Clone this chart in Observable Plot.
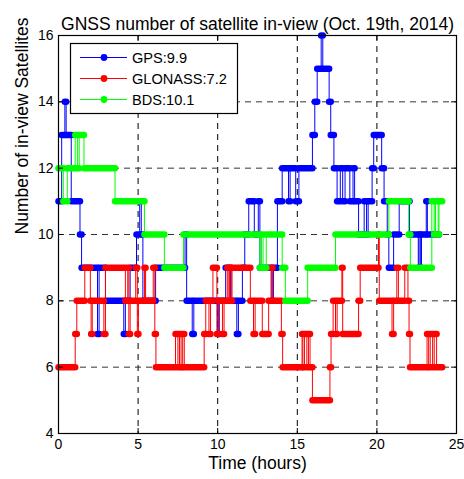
<!DOCTYPE html>
<html>
<head>
<meta charset="utf-8">
<script src="https://cdn.jsdelivr.net/npm/d3@7"></script>
<script src="https://cdn.jsdelivr.net/npm/@observablehq/plot@0.6"></script>
<style>
  body { margin: 0; background: #fff; }
  #chart svg { display: block; }
</style>
</head>
<body>
<div id="chart"></div>
<script>
// Satellites in view per constellation: each series is a list of change times (hours)
// and the count that holds from that time until the next change.
const gpsTimes = [0, 0.2, 0.4, 0.48, 0.8, 1.35, 1.45, 2.45, 2.55, 2.95, 4.1, 4.2, 4.5, 4.9, 5.1, 5.2, 5.3, 6.1, 7.95, 8.05, 8.4, 8.5, 10.0, 10.1, 10.5, 10.8, 11.2, 11.3, 11.55, 11.7, 11.95, 12.3, 12.55, 12.65, 13.4, 13.5, 13.75, 14.05, 14.45, 14.55, 14.9, 15.1, 15.95, 16.1, 16.25, 16.5, 16.6, 17.0, 17.1, 17.3, 17.5, 17.7, 17.85, 18.0, 18.3, 18.5, 18.6, 18.85, 19.2, 19.35, 19.45, 19.7, 19.8, 20.3, 20.45, 20.65, 20.75, 21.05, 21.4, 22.05, 22.6, 22.65, 22.75, 22.8, 23.1, 23.17];
const gpsValues = [11, 13, 14, 13, 11, 10, 9, 7, 9, 8, 7, 8, 9, 10, 11, 10, 8, 9, 10, 8, 7, 8, 7, 8, 9, 8, 7, 8, 9, 10, 11, 10, 11, 9, 8, 9, 11, 12, 11, 12, 11, 12, 13, 14, 15, 16, 15, 14, 13, 12, 11, 12, 11, 12, 11, 12, 11, 10, 11, 10, 11, 12, 13, 12, 11, 10, 9, 10, 11, 10, 9, 10, 9, 10, 11, 10];
const gpsEnd = 23.9;

const glonassTimes = [0, 1.05, 1.15, 1.65, 2.0, 2.05, 2.12, 2.85, 2.95, 4.2, 4.35, 4.42, 4.5, 4.85, 4.95, 5.02, 5.4, 5.47, 5.95, 6.05, 6.12, 7.35, 7.5, 7.6, 7.7, 7.8, 7.9, 9.15, 9.25, 9.45, 9.55, 9.7, 9.95, 10.05, 10.3, 10.4, 10.6, 10.7, 10.75, 10.85, 10.9, 12.05, 12.25, 12.35, 12.8, 13.2, 13.35, 13.45, 14.0, 14.08, 15.3, 15.35, 15.45, 15.6, 15.7, 15.8, 15.95, 17.05, 17.12, 17.25, 17.4, 17.5, 17.8, 17.85, 18.85, 18.95, 20.1, 20.15, 20.95, 21.05, 21.25, 21.35, 21.75, 21.95, 22.02, 22.08, 23.15, 23.25, 23.35, 23.5, 23.6, 23.75];
const glonassValues = [6, 7, 8, 9, 8, 7, 8, 7, 9, 8, 9, 7, 8, 9, 7, 8, 9, 8, 9, 7, 6, 7, 6, 7, 6, 7, 6, 7, 8, 7, 8, 9, 7, 8, 7, 8, 9, 8, 9, 8, 9, 8, 7, 8, 7, 8, 9, 8, 7, 6, 7, 6, 7, 6, 7, 6, 5, 6, 7, 8, 7, 8, 9, 7, 8, 9, 10, 8, 7, 8, 9, 8, 9, 8, 7, 6, 7, 6, 7, 6, 7, 6];
const glonassEnd = 24.1;

const bdsTimes = [0, 0.3, 0.55, 1.05, 1.2, 1.3, 1.6, 3.55, 5.4, 6.65, 7.85, 12.65, 12.75, 12.85, 13.05, 14.05, 14.25, 15.65, 17.4, 20.75, 22.0, 22.1, 23.45, 23.6, 23.68, 23.85, 23.9];
const bdsValues = [12, 11, 12, 13, 12, 13, 12, 11, 10, 9, 10, 9, 10, 9, 10, 9, 8, 9, 10, 11, 10, 9, 11, 10, 11, 10, 11];
const bdsEnd = 24.1;

const seriesNames = ["GPS", "GLONASS", "BDS"];
const seriesMeans = ["9.9", "7.2", "10.1"];
const seriesColors = ["#0000ff", "#ff0000", "#00ff00"];

const xTicks = [0, 5, 10, 15, 20, 25];
const yTicks = [4, 6, 8, 10, 12, 14, 16];
const xGrid = [5, 10, 15, 20];
const yGrid = [6, 8, 10, 12, 14];

const titleText = "GNSS number of satellite in-view (Oct. 19th, 2014)";
const xLabel = "Time (hours)";
const yLabel = "Number of in-view Satellites";

// Build runs (start, end, value) and step-line vertices for one series
function buildSeries(times, values, end) {
  const runs = times.map((t, i) => ({start: t, end: i + 1 < times.length ? times[i + 1] : end, value: values[i]}));
  const pts = times.map((t, i) => ({t, v: values[i]}));
  pts.push({t: end, v: values[values.length - 1]});
  return {runs, pts};
}
const series = [
  buildSeries(gpsTimes, gpsValues, gpsEnd),
  buildSeries(glonassTimes, glonassValues, glonassEnd),
  buildSeries(bdsTimes, bdsValues, bdsEnd)
];

const W = 464, H = 479;
const mL = 58, mR = 8, mT = 35, mB = 46;
const innerH = H - mT - mB, innerW = W - mL - mR;
const font = "'Liberation Sans', Arial, Helvetica, sans-serif";

const seriesMarks = series.flatMap((s, i) => [
  Plot.line(s.pts, {x: "t", y: "v", curve: "step-after", stroke: seriesColors[i], strokeWidth: 1}),
  Plot.link(s.runs, {x1: "start", x2: "end", y1: "value", y2: "value", stroke: seriesColors[i], strokeWidth: 6.5, strokeLinecap: "round"})
]);

const chart = Plot.plot({
  width: W,
  height: H,
  marginLeft: mL,
  marginRight: mR,
  marginTop: mT,
  marginBottom: mB,
  style: {fontFamily: font, background: "#fff", color: "#000", overflow: "visible"},
  x: {domain: [0, 25]},
  y: {domain: [4, 16]},
  marks: [
    // dashed grid
    Plot.ruleX(xGrid, {stroke: "#000", strokeWidth: 1, strokeDasharray: "6,5"}),
    Plot.ruleY(yGrid, {stroke: "#333", strokeWidth: 1, strokeDasharray: "6,5"}),
    ...seriesMarks,
    // box and inward ticks on all four sides
    Plot.frame({stroke: "#000", strokeWidth: 1.2}),
    Plot.ruleX(xTicks, {insetTop: innerH - 5, stroke: "#000"}),
    Plot.ruleX(xTicks, {insetBottom: innerH - 5, stroke: "#000"}),
    Plot.ruleY(yTicks, {insetRight: innerW - 5, stroke: "#000"}),
    Plot.ruleY(yTicks, {insetLeft: innerW - 5, stroke: "#000"}),
    Plot.axisX(xTicks, {anchor: "bottom", tickSize: 0, tickPadding: 6, fontSize: 14, label: null}),
    Plot.axisY(yTicks, {anchor: "left", tickSize: 0, tickPadding: 5, fontSize: 14, label: null}),
    // titles
    Plot.text([titleText], {text: d => d, frameAnchor: "top", dy: -18, fontSize: 17.5, fill: "#000"}),
    Plot.text([xLabel], {text: d => d, frameAnchor: "bottom", dy: 35, fontSize: 17.5, fill: "#000"}),
    Plot.text([yLabel], {text: d => d, frameAnchor: "left", dx: -36, rotate: -90, fontSize: 17.5, fill: "#000"})
  ]
});

// legend box in the upper-left corner of the plot area
const svg = d3.select(chart);
const lg = svg.append("g").attr("font-family", font).attr("font-size", 14.6).attr("text-anchor", "start");
lg.append("rect").attr("x", 70.5).attr("y", 43.5).attr("width", 167).attr("height", 70)
  .attr("fill", "#fff").attr("stroke", "#000").attr("stroke-width", 1.2);
seriesNames.forEach((name, i) => {
  const y = 57.5 + i * 21;
  lg.append("line").attr("x1", 80).attr("x2", 127).attr("y1", y).attr("y2", y)
    .attr("stroke", seriesColors[i]).attr("stroke-width", 1);
  lg.append("circle").attr("cx", 104).attr("cy", y).attr("r", 3.4).attr("fill", seriesColors[i]);
  lg.append("text").attr("x", 132).attr("y", y).attr("dy", "0.36em").attr("fill", "#000")
    .attr("text-anchor", "start")
    .text(`${name}:${seriesMeans[i]}`);
});

document.getElementById("chart").appendChild(chart);
</script>
</body>
</html>
